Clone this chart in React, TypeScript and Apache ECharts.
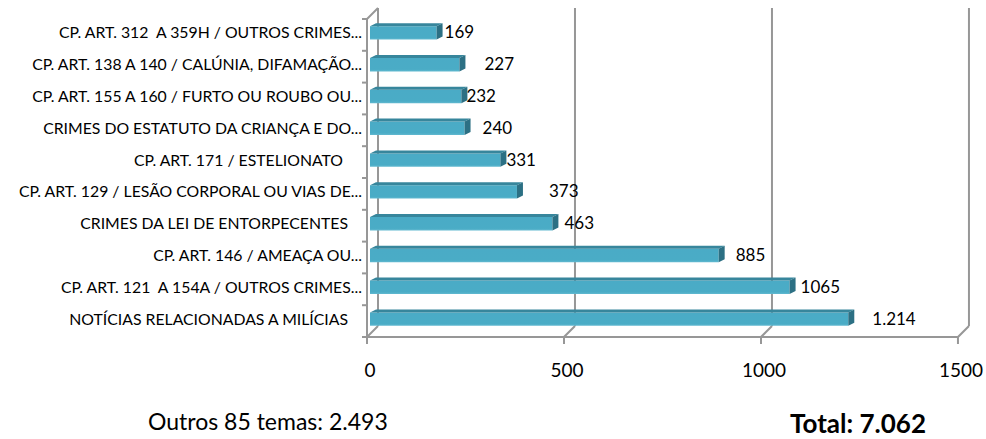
import React, { useEffect, useRef } from "react";
import * as echarts from "echarts";

const categories = [
  "CP. ART. 312  A 359H / OUTROS CRIMES...",
  "CP. ART. 138 A 140 / CALÚNIA, DIFAMAÇÃO...",
  "CP. ART. 155 A 160 / FURTO OU ROUBO OU...",
  "CRIMES DO ESTATUTO DA CRIANÇA E DO...",
  "CP. ART. 171 / ESTELIONATO",
  "CP. ART. 129 / LESÃO CORPORAL OU VIAS DE...",
  "CRIMES DA LEI DE ENTORPECENTES",
  "CP. ART. 146 / AMEAÇA OU...",
  "CP. ART. 121  A 154A / OUTROS CRIMES...",
  "NOTÍCIAS RELACIONADAS A MILÍCIAS",
];
const values = [169, 227, 232, 240, 331, 373, 463, 885, 1065, 1214];
const valueLabels = ["169", "227", "232", "240", "331", "373", "463", "885", "1065", "1.214"];
const xTicks = [0, 500, 1000, 1500];
const othersText = "Outros 85 temas: 2.493";
const totalText = "Total: 7.062";

// layout-only tweaks (label nudges, right padding of category labels)
const labelNudge = [2, 19, -1, 12, 0, 26, 6, 11, 5, 18];
const catPadRight = [0, 0, 0, 0, 19, 0, 14, 0, 0, 14];

const FONT = "Lato";
const LINE = "#979797";

export default function App() {
  const ref = useRef<HTMLDivElement>(null);
  useEffect(() => {
    if (!ref.current) return;
    const chart = echarts.init(ref.current, undefined, { renderer: "svg" });

    const frameItem = (params: any, api: any) => {
      const cs = params.coordSys;
      const top = cs.y;
      const bottom = cs.y + cs.height;
      const n = categories.length;
      const st = { stroke: LINE, lineWidth: 2, fill: null };
      const children: any[] = [];
      const x0 = api.coord([0, 0])[0];
      const xMax = api.coord([xTicks[xTicks.length - 1], 0])[0];
      xTicks.forEach((v) => {
        const x = api.coord([v, 0])[0];
        children.push({ type: "line", shape: { x1: x + 8, y1: top - 8, x2: x + 8, y2: bottom - 8 }, style: st });
        children.push({ type: "line", shape: { x1: x - 3, y1: bottom + 3, x2: x + 8, y2: bottom - 8 }, style: st });
        children.push({ type: "line", shape: { x1: x - 3, y1: bottom + 3, x2: x - 3, y2: bottom + 10 }, style: st });
      });
      children.push({ type: "line", shape: { x1: x0 - 3, y1: bottom + 3, x2: xMax - 3, y2: bottom + 3 }, style: st });
      children.push({ type: "line", shape: { x1: x0 - 3, y1: top + 3, x2: x0 - 3, y2: bottom + 3 }, style: st });
      children.push({ type: "line", shape: { x1: x0 - 3, y1: top + 3, x2: x0 + 8, y2: top - 8 }, style: st });
      for (let k = 0; k <= n; k++) {
        const y = top + 3 + (k * cs.height) / n;
        children.push({ type: "line", shape: { x1: x0 - 8, y1: y, x2: x0 - 3, y2: y }, style: st });
      }
      return { type: "group", children };
    };

    const barItem = (params: any, api: any) => {
      const idx = params.dataIndex;
      const v = api.value(0);
      const c = api.value(1);
      const s = api.coord([0, c]);
      const e = api.coord([v, c]);
      const band = api.size([0, 1])[1];
      const h = band * 0.42;
      const yT = e[1] - h / 2 + 1;
      const yB = e[1] + h / 2 + 1;
      const dx = 6;
      const dy = 3;
      return {
        type: "group",
        children: [
          {
            type: "rect",
            shape: { x: s[0], y: yT, width: e[0] - s[0], height: h },
            style: {
              fill: new echarts.graphic.LinearGradient(0, 0, 0, 1, [
                { offset: 0, color: "#4aabc6" },
                { offset: 0.85, color: "#4aacc6" },
                { offset: 1, color: "#62b9d0" },
              ]),
            },
          },
          {
            type: "polygon",
            shape: { points: [[s[0], yT], [e[0], yT], [e[0] + dx, yT - dy], [s[0] + dx, yT - dy]] },
            style: { fill: "#37869c" },
          },
          {
            type: "polygon",
            shape: { points: [[e[0], yT], [e[0] + dx, yT - dy], [e[0] + dx, yB - dy], [e[0], yB]] },
            style: { fill: "#2c7084" },
          },
          {
            type: "text",
            style: {
              text: valueLabels[idx],
              x: e[0] + dx + labelNudge[idx],
              y: e[1],
              align: "left",
              verticalAlign: "middle",
              fill: "#000",
              fontSize: 17,
              fontFamily: FONT,
            },
          },
        ],
      };
    };

    const rich: any = {};
    catPadRight.forEach((p) => {
      rich["p" + p] = { padding: [0, p, 0, 0], fontSize: 15.8, fontFamily: FONT, color: "#000" };
    });

    chart.setOption({
      animation: false,
      textStyle: { fontFamily: FONT },
      grid: { left: 370, right: 25, top: 16, bottom: 105, containLabel: false },
      xAxis: {
        type: "value",
        min: 0,
        max: 1500,
        interval: 500,
        axisLine: { show: false },
        axisTick: { show: false },
        splitLine: { show: false },
        axisLabel: {
          fontSize: 19,
          color: "#000",
          margin: 26,
          fontFamily: FONT,
          formatter: (v: number) => String(v),
        },
      },
      yAxis: {
        type: "category",
        inverse: true,
        data: categories,
        axisLine: { show: false },
        axisTick: { show: false },
        axisLabel: {
          margin: 8,
          fontSize: 15.8,
          color: "#000",
          fontFamily: FONT,
          formatter: (val: string, i: number) => `{p${catPadRight[i]}|${val}}`,
          rich,
        },
      },
      series: [
        {
          type: "custom",
          renderItem: frameItem,
          data: [[0, 0]],
          encode: { x: 0, y: 1 },
          silent: true,
          z: 1,
        },
        {
          type: "custom",
          renderItem: barItem,
          data: values.map((v, i) => [v, i]),
          encode: { x: 0, y: 1 },
          z: 2,
        },
      ],
      graphic: [
        {
          type: "text",
          left: 148,
          top: 409,
          style: { text: othersText, fontSize: 23, fontFamily: FONT, fill: "#000" },
        },
        {
          type: "text",
          left: 790,
          top: 410,
          style: { text: totalText, fontSize: 26, fontWeight: "bold", fontFamily: FONT, fill: "#000" },
        },
      ],
    });
    return () => chart.dispose();
  }, []);
  return <div ref={ref} style={{ position: "absolute", left: 0, top: 0, width: 986, height: 439 }} />;
}
